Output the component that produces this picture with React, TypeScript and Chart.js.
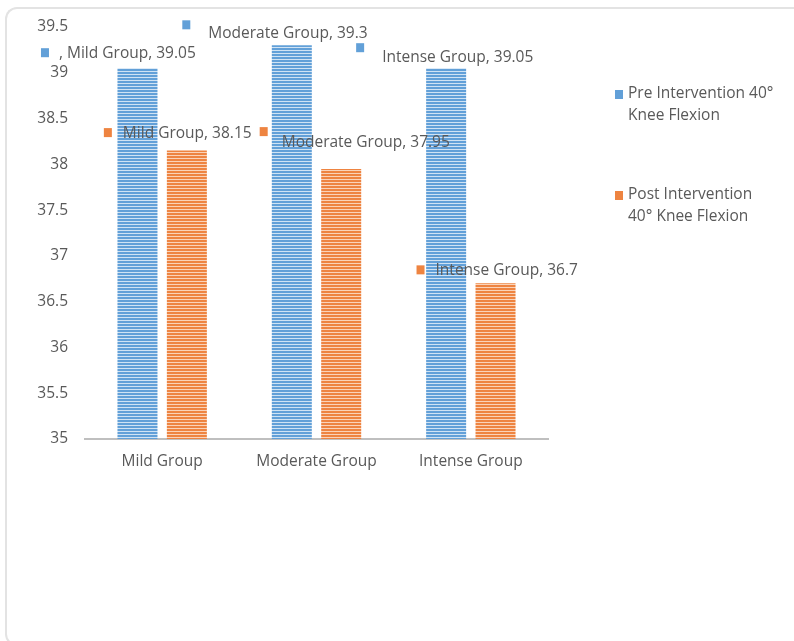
import React, { useEffect, useRef } from "react";
import { Chart, registerables } from "chart.js";

Chart.register(...registerables);

// ---- data ----
const CATEGORIES = ["Mild Group", "Moderate Group", "Intense Group"];
const PRE_VALUES = [39.05, 39.3, 39.05];
const POST_VALUES = [38.15, 37.95, 36.7];
const SERIES_NAMES = ["Pre Intervention 40° Knee Flexion", "Post Intervention 40° Knee Flexion"];
const LEGEND_LINES = [
  ["Pre Intervention 40°", "Knee Flexion"],
  ["Post Intervention", "40° Knee Flexion"],
];
const Y_MIN = 35;
const Y_MAX = 39.5;
const Y_STEP = 0.5;
// data-label prefixes (the first label carries a stray comma in the source)
const LABEL_PREFIXES = [
  [", ", "", ""],
  ["", "", ""],
];

// ---- styling / label placement (relative to each bar's top-centre) ----
const COLORS = [
  { base: "#62A0D8", light: "#D0E3F4" },
  { base: "#EE8441", light: "#FAD3B9" },
];
const TEXT_COLOR = "#595959";
const FONT_FAMILY = "'Open Sans', 'Noto Sans', sans-serif";
const FONT_SIZE = 15.5;
// [markerDx, markerDy, textDx, textDy]
const LABEL_OFFSETS = [
  [
    [-96.5, -20, -78.5, -15],
    [-109.5, -25, -83.5, -12],
    [-90, -25, -64, -11],
  ],
  [
    [-83, -22.5, -64, -17.5],
    [-81.5, -41.8, -59.5, -26.8],
    [-79, -18, -60, -13],
  ],
];

function makePattern(base: string, light: string): CanvasPattern | string {
  const c = document.createElement("canvas");
  c.width = 4;
  c.height = 3;
  const ctx = c.getContext("2d");
  if (!ctx) return base;
  ctx.fillStyle = base;
  ctx.fillRect(0, 0, 4, 3);
  ctx.fillStyle = light;
  ctx.fillRect(0, 2, 4, 1);
  const p = ctx.createPattern(c, "repeat");
  return p || base;
}

export default function App() {
  const canvasRef = useRef<HTMLCanvasElement | null>(null);

  useEffect(() => {
    const canvas = canvasRef.current;
    if (!canvas) return;
    const patterns = COLORS.map((c) => makePattern(c.base, c.light));

    const labelsPlugin = {
      id: "customLabels",
      afterDatasetsDraw(chart: any) {
        const ctx = chart.ctx as CanvasRenderingContext2D;
        ctx.save();
        ctx.font = `${FONT_SIZE}px ${FONT_FAMILY}`;
        ctx.textBaseline = "middle";
        ctx.textAlign = "left";
        chart.data.datasets.forEach((ds: any, di: number) => {
          const meta = chart.getDatasetMeta(di);
          meta.data.forEach((bar: any, i: number) => {
            const off = LABEL_OFFSETS[di][i];
            const mx = bar.x + off[0];
            const my = bar.y + off[1];
            ctx.fillStyle = COLORS[di].base;
            ctx.fillRect(mx, my, 8, 9);
            ctx.fillStyle = TEXT_COLOR;
            const txt = `${LABEL_PREFIXES[di][i]}${chart.data.labels[i]}, ${ds.data[i]}`;
            ctx.fillText(txt, bar.x + off[2], bar.y + off[3]);
          });
        });
        ctx.restore();
      },
    };

    const legendPlugin = {
      id: "customLegend",
      afterDraw(chart: any) {
        const ctx = chart.ctx as CanvasRenderingContext2D;
        const area = chart.chartArea;
        ctx.save();
        ctx.font = `${FONT_SIZE}px ${FONT_FAMILY}`;
        ctx.textBaseline = "middle";
        ctx.textAlign = "left";
        const x0 = area.right + 67;
        const yStart = area.top + 67;
        const blockGap = 101;
        const lineH = 22;
        LEGEND_LINES.forEach((lines, di) => {
          const y = yStart + di * blockGap;
          ctx.fillStyle = COLORS[di].base;
          ctx.fillRect(x0, y - 4, 8, 9);
          ctx.fillStyle = TEXT_COLOR;
          lines.forEach((ln, li) => {
            ctx.fillText(ln, x0 + 13, y + li * lineH);
          });
        });
        ctx.restore();
      },
    };

    const chart = new Chart(canvas, {
      type: "bar",
      data: {
        labels: CATEGORIES,
        datasets: [
          {
            label: SERIES_NAMES[0],
            data: PRE_VALUES,
            backgroundColor: patterns[0] as any,
            borderWidth: 0,
            categoryPercentage: 0.64,
            barPercentage: 0.81,
          },
          {
            label: SERIES_NAMES[1],
            data: POST_VALUES,
            backgroundColor: patterns[1] as any,
            borderWidth: 0,
            categoryPercentage: 0.64,
            barPercentage: 0.81,
          },
        ],
      },
      options: {
        responsive: false,
        animation: false,
        layout: { padding: { left: 8, top: 27, right: 246, bottom: 0 } },
        plugins: {
          legend: { display: false },
          tooltip: { enabled: false },
        },
        scales: {
          x: {
            grid: { display: false, drawTicks: false },
            border: { display: true, color: "#BFBFBF", width: 2 },
            ticks: {
              color: TEXT_COLOR,
              padding: 13,
              font: { family: FONT_FAMILY, size: FONT_SIZE },
            },
            afterFit: (s: any) => {
              s.height = 202;
            },
          },
          y: {
            min: Y_MIN,
            max: Y_MAX,
            grid: { display: false, drawTicks: false },
            border: { display: false },
            ticks: {
              stepSize: Y_STEP,
              color: TEXT_COLOR,
              padding: 17,
              font: { family: FONT_FAMILY, size: FONT_SIZE },
              callback: (v: any) => String(Number(v)),
            },
            afterFit: (s: any) => {
              s.width = 77;
            },
          },
        },
      },
      plugins: [labelsPlugin, legendPlugin],
    });

    return () => chart.destroy();
  }, []);

  return (
    <div style={{ position: "fixed", left: 0, top: 0, width: 794, height: 641, background: "#fff" }}>
      <div
        style={{
          position: "absolute",
          left: 5,
          top: 7,
          width: 820,
          height: 639,
          borderTop: "2px solid #E3E3E3",
          borderLeft: "2px solid #E3E3E3",
          borderBottom: "2px solid #E3E3E3",
          borderRadius: "12px 0 0 12px",
          boxSizing: "border-box",
        }}
      />
      <canvas
        ref={canvasRef}
        width={794}
        height={641}
        style={{ position: "absolute", left: 0, top: 0 }}
      />
    </div>
  );
}
